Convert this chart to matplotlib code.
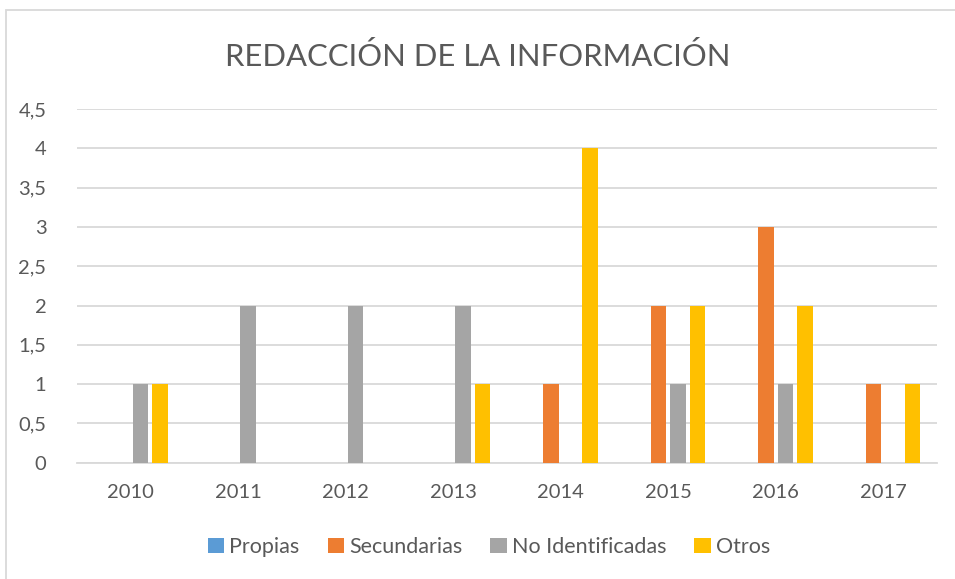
import matplotlib
matplotlib.use("Agg")
import matplotlib.pyplot as plt
from matplotlib.patches import Rectangle
import numpy as np

plt.rcParams['font.family'] = ['Lato', 'DejaVu Sans']

years = ["2010", "2011", "2012", "2013", "2014", "2015", "2016", "2017"]
series_names = ["Propias", "Secundarias", "No Identificadas", "Otros"]
propias = [0, 0, 0, 0, 0, 0, 0, 0]
secundarias = [0, 0, 0, 0, 1, 2, 3, 1]
no_identificadas = [1, 2, 2, 2, 0, 1, 1, 0]
otros = [1, 0, 0, 1, 4, 2, 2, 1]
colors = ["#5B9BD5", "#ED7D31", "#A5A5A5", "#FFC000"]

text_col = "#595959"

fig = plt.figure(figsize=(9.55, 5.79), dpi=100)
ax = fig.add_axes([77 / 955, 116.3 / 579, 860 / 955, 353.7 / 579])

x = np.arange(len(years))
step = 0.181
width = 0.144
for i, (name, vals) in enumerate(zip(series_names, [propias, secundarias, no_identificadas, otros])):
    ax.bar(x + (i - 1.5) * step, vals, width, color=colors[i], label=name, zorder=3)

ax.set_xlim(-0.5, len(years) - 0.5)
ax.set_ylim(0, 4.5)
ax.set_yticks(np.arange(0, 4.51, 0.5))
ax.set_yticklabels([("%g" % v).replace(".", ",") for v in np.arange(0, 4.51, 0.5)])
ax.set_xticks(x)
ax.set_xticklabels(years)
ax.tick_params(axis='both', length=0, labelsize=14.5, colors=text_col)
ax.tick_params(axis='x', pad=15)
ax.tick_params(axis='y', pad=22)
ax.grid(axis='y', color="#D9D9D9", linewidth=1.3, zorder=0)
for s in ["top", "right", "left"]:
    ax.spines[s].set_visible(False)
ax.spines["bottom"].set_color("#D9D9D9")
ax.spines["bottom"].set_linewidth(1.3)

fig.text(478 / 955, 1 - 56 / 579, "REDACCIÓN DE LA INFORMACIÓN", ha='center', va='center',
         fontsize=22.3, color=text_col)

fig.legend(loc='center', bbox_to_anchor=(489 / 955, 1 - 547 / 579), ncol=4, frameon=False,
           fontsize=15.5, labelcolor=text_col, handlelength=0.75, handleheight=0.75,
           handletextpad=0.25, columnspacing=1.3)

fig.patches.append(Rectangle((6 / 955, -0.1), 1.2, 1.1 - 10 / 579, transform=fig.transFigure,
                             fill=False, edgecolor="#D9D9D9", linewidth=1.3))

fig.savefig("out.png", dpi=100, facecolor="white")
